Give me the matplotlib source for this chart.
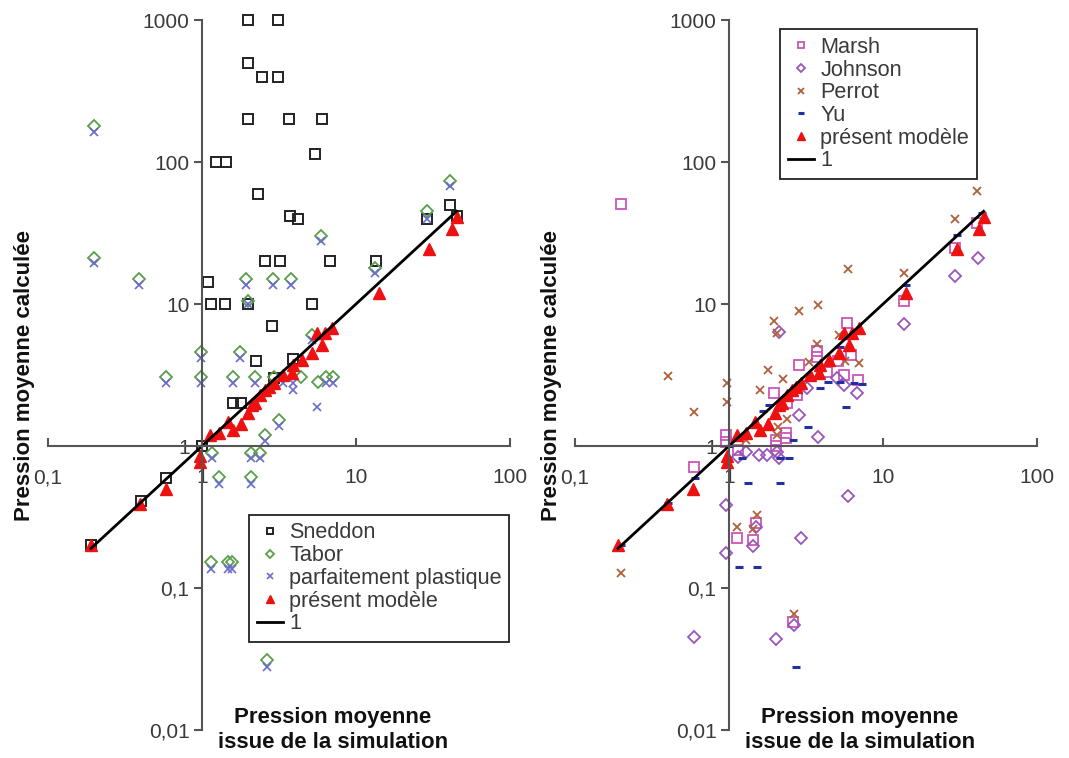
import numpy as np
import matplotlib
matplotlib.use("Agg")
import matplotlib.pyplot as plt

plt.rcParams['font.family'] = ['Liberation Sans', 'DejaVu Sans']

# ---- data ----
# present model (same on both panels)
modele_x = [0.19, 0.395, 0.58, 0.97, 0.97, 1.13, 1.28, 1.48, 1.6, 1.79, 2.0, 2.1, 2.21, 2.38,
            2.56, 2.74, 2.95, 3.37, 3.82, 3.92, 4.44, 5.15, 5.99, 5.55, 6.28, 6.95, 14, 30, 42, 45.5]
modele_y = [0.2, 0.39, 0.5, 0.85, 0.77, 1.2, 1.23, 1.48, 1.3, 1.44, 1.7, 1.94, 2.0, 2.29,
            2.48, 2.62, 2.76, 3.16, 3.25, 3.72, 4.03, 4.5, 5.15, 6.2, 6.2, 6.73, 11.9, 24.4, 33.6, 41.2]

ligne_x = [0.19, 45]
ligne_y = [0.19, 45]

# left panel
sneddon_x = [0.19, 0.4, 0.58, 1.0, 1.1, 1.14, 1.42, 1.23, 1.44, 1.6, 1.78,
             2.0, 3.1, 2.0, 2.45, 3.1, 2.0, 3.67, 6.0, 5.44, 2.32, 3.73, 4.2,
             2.57, 3.23, 6.8, 13.5, 2.0, 5.2, 2.85, 2.24, 3.9, 2.95, 29, 41, 45]
sneddon_y = [0.2, 0.41, 0.6, 1.0, 14.2, 10, 10, 100, 100, 2, 2,
             1000, 1000, 500, 400, 400, 200, 200, 200, 114, 60, 42, 40,
             20, 20, 20, 20, 10, 10, 7, 4, 4.1, 3, 40, 50, 42]

tabor_x = [0.2, 0.2, 0.39, 1.94, 2.87, 3.77, 2.0, 5.9, 13.3, 28.7, 40.6,
           0.98, 1.77, 5.2, 0.58, 0.98, 1.6, 2.22, 2.95, 4.4, 5.7, 6.4, 7.06,
           3.18, 2.56, 1.16, 2.07, 2.38, 1.28, 2.07, 1.14, 1.48, 1.56, 2.65]
tabor_y = [178, 21, 15, 15, 15, 15, 10.5, 30, 18, 45, 74,
           4.6, 4.6, 6.1, 3.05, 3.05, 3.05, 3.05, 3.05, 3.05, 2.84, 3.05, 3.05,
           1.52, 1.2, 0.9, 0.9, 0.9, 0.61, 0.61, 0.153, 0.153, 0.153, 0.031]

plast_x = [0.2, 0.2, 0.39, 1.94, 2.87, 3.77, 2.0, 5.9, 13.3, 28.7, 40.6,
           0.98, 1.77, 5.2, 0.58, 0.98, 1.6, 2.22, 3.37, 3.92, 3.92, 6.4, 7.06, 5.6,
           3.18, 2.56, 1.16, 2.07, 2.38, 1.28, 2.07, 1.14, 1.48, 1.56, 2.65]
plast_y = [164, 19.4, 13.7, 13.7, 13.7, 13.7, 10, 27.6, 16.5, 40, 68,
           4.2, 4.2, 5.6, 2.8, 2.8, 2.8, 2.8, 2.79, 2.79, 2.48, 2.8, 2.8, 1.89,
           1.38, 1.09, 0.82, 0.82, 0.82, 0.54, 0.54, 0.137, 0.137, 0.137, 0.028]

# right panel
marsh_x = [0.2, 0.59, 0.95, 0.95, 1.14, 1.12, 1.5, 1.43, 2.62,
           1.97, 2.39, 2.03, 2.03, 2.33, 2.33, 2.78,
           2.86, 3.74, 3.74, 4.3, 5.07, 5.58, 6.17, 6.9, 5.8, 13.7, 29.3, 40.5]
marsh_y = [51, 0.715, 1.2, 1.07, 0.94, 0.224, 0.285, 0.218, 0.058,
           2.37, 2.0, 1.1, 1.0, 1.23, 1.13, 2.3,
           3.7, 4.7, 4.25, 3.3, 4.0, 3.16, 4.4, 2.9, 7.3, 10.5, 25, 37]

johnson_x = [0.59, 0.95, 0.95, 1.14, 1.28, 1.57, 1.76, 2.06, 2.1,
             1.5, 1.43, 2.93, 2.66, 2.02, 5.9,
             2.11, 2.86, 3.8, 3.19, 5.0, 5.58, 6.8, 13.7, 29.3, 41.6]
johnson_y = [0.045, 0.385, 0.176, 0.84, 0.91, 0.86, 0.86, 0.91, 0.82,
             0.27, 0.197, 0.225, 0.055, 0.044, 0.445,
             6.4, 1.65, 1.16, 2.55, 3.0, 2.7, 2.37, 7.2, 15.7, 21]

perrot_x = [0.2, 0.4, 0.59, 0.97, 0.97, 1.13, 1.51, 1.44, 2.66,
            1.28, 2.04, 2.09, 2.39, 1.6, 1.8, 2.23, 1.96, 2.04, 2.86, 3.8,
            3.3, 3.7, 5.2, 5.67, 7.0, 5.96, 13.7, 29.3, 41]
perrot_y = [0.128, 3.1, 1.74, 2.76, 2.05, 0.27, 0.327, 0.26, 0.066,
            1.11, 1.2, 1.37, 1.54, 2.5, 3.43, 2.95, 7.6, 6.2, 9, 9.8,
            3.9, 5.2, 6.05, 4.0, 3.86, 17.6, 16.5, 39.5, 62]

yu_x = [0.2, 0.4, 0.6, 1.0, 1.21, 2.14, 2.46, 1.32, 2.14, 1.16, 1.53, 2.72,
        1.66, 1.83, 2.61, 3.27, 3.9, 4.41, 5.26, 6.47, 7.27, 5.75, 5.26, 14, 30, 43.7]
yu_y = [0.2, 0.4, 0.6, 1.0, 0.82, 0.82, 0.82, 0.55, 0.55, 0.14, 0.14, 0.028,
        1.77, 1.94, 1.1, 1.37, 2.55, 2.84, 2.84, 2.77, 2.75, 1.89, 4.95, 13.6, 30.6, 43.5]

x_ticks = [0.1, 1, 10, 100]
x_labels = ['0,1', '1', '10', '100']
y_ticks = [0.01, 0.1, 1, 10, 100, 1000]
y_labels = ['0,01', '0,1', '1', '10', '100', '1000']

axis_col = '#555555'
text_col = '#3a3a3a'


def setup_axes(ax):
    ax.set_xscale('log')
    ax.set_yscale('log')
    ax.set_xlim(0.1, 100)
    ax.set_ylim(0.01, 1000)
    ax.spines['left'].set_position(('data', 1))
    ax.spines['bottom'].set_position(('data', 1))
    ax.spines['top'].set_visible(False)
    ax.spines['right'].set_visible(False)
    for s in ['left', 'bottom']:
        ax.spines[s].set_color(axis_col)
        ax.spines[s].set_linewidth(1.5)
    ax.set_xticks(x_ticks)
    ax.set_xticklabels(x_labels)
    ax.set_yticks(y_ticks)
    ax.set_yticklabels(y_labels)
    ax.minorticks_off()
    ax.tick_params(axis='x', direction='in', length=6, width=1.5, color=axis_col,
                   pad=16, labelsize=15, labelcolor=text_col)
    ax.tick_params(axis='y', direction='out', length=6, width=1.5, color=axis_col,
                   pad=3, labelsize=15, labelcolor=text_col)
    ax.patch.set_alpha(0)
    ax.text(-0.05, 0.5, 'Pression moyenne calculée', rotation=90, transform=ax.transAxes,
            ha='center', va='center', fontsize=16, fontweight='bold', color='#111111')
    ax.text(0.617, 0.0, 'Pression moyenne\nissue de la simulation', transform=ax.transAxes,
            ha='center', va='center', fontsize=16, fontweight='bold', color='#111111')


def add_legend(ax, anchor):
    leg = ax.legend(loc='upper left', bbox_to_anchor=anchor, fontsize=15.6,
                    frameon=True, fancybox=False, framealpha=1, edgecolor='#222222',
                    handlelength=1.2, handletextpad=0.3, labelspacing=0.08,
                    borderpad=0.35, markerscale=0.75, borderaxespad=0)
    leg.get_frame().set_linewidth(1.3)
    for t in leg.get_texts():
        t.set_color(text_col)
    return leg


fig = plt.figure(figsize=(10.69, 7.58), dpi=100)
ax1 = fig.add_axes([0.0449, 0.0369, 0.4322, 0.9367])
ax2 = fig.add_axes([0.5379, 0.0369, 0.4322, 0.9367])

# ---- left panel ----
setup_axes(ax1)
ax1.plot(sneddon_x, sneddon_y, ls='none', marker='s', ms=6.5, mfc='none', mec='#222222',
         mew=1.4, label='Sneddon', clip_on=False)
ax1.plot(tabor_x, tabor_y, ls='none', marker='D', ms=6, mfc='none', mec='#5a9e4a',
         mew=1.3, label='Tabor', clip_on=False)
ax1.plot(plast_x, plast_y, ls='none', marker='x', ms=6, mec='#6a6ad0',
         mew=1.2, label='parfaitement plastique', clip_on=False)
ax1.plot(modele_x, modele_y, ls='none', marker='^', ms=8.5, mfc='#ee1111', mec='#ee1111',
         label='présent modèle', clip_on=False)
ax1.plot(ligne_x, ligne_y, color='black', lw=2, label='1')
add_legend(ax1, (0.435, 0.303))

# ---- right panel ----
setup_axes(ax2)
ax2.plot(marsh_x, marsh_y, ls='none', marker='s', ms=6.5, mfc='none', mec='#cc55bb',
         mew=1.3, label='Marsh', clip_on=False)
ax2.plot(johnson_x, johnson_y, ls='none', marker='D', ms=6, mfc='none', mec='#9955bb',
         mew=1.3, label='Johnson', clip_on=False)
ax2.plot(perrot_x, perrot_y, ls='none', marker='x', ms=6, mec='#b0603a',
         mew=1.3, label='Perrot', clip_on=False)
ax2.plot(yu_x, yu_y, ls='none', marker='_', ms=6, mec='#2030a0',
         mew=2.2, label='Yu', clip_on=False)
ax2.plot(modele_x, modele_y, ls='none', marker='^', ms=8.5, mfc='#ee1111', mec='#ee1111',
         label='présent modèle', clip_on=False)
ax2.plot(ligne_x, ligne_y, color='black', lw=2, label='1')
add_legend(ax2, (0.444, 0.987))

fig.savefig('out.png', dpi=100)
